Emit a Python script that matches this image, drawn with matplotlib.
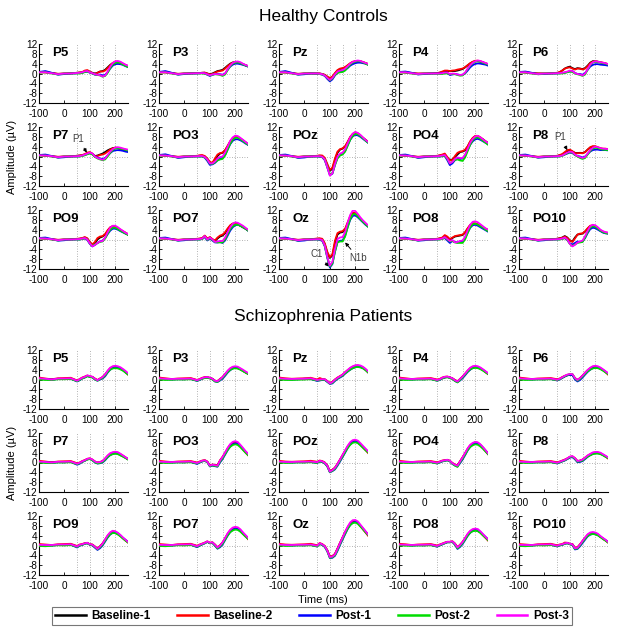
import matplotlib
matplotlib.use("Agg")
import matplotlib.pyplot as plt
from matplotlib.lines import Line2D

plt.rcParams['font.family'] = ['Liberation Sans', 'DejaVu Sans']
plt.rcParams['axes.unicode_minus'] = False

# ---------------- data ----------------
time_ms = [-100, -75, -50, -25, 0, 25, 50, 60, 70, 80, 90, 100, 110, 120, 130,
           140, 150, 160, 170, 180, 190, 200, 210, 220, 230, 240, 250]
conditions = ['Baseline-1', 'Baseline-2', 'Post-1', 'Post-2', 'Post-3']
colors = ['#000000', '#ff0000', '#0000ff', '#00dd00', '#ff00ff']
channels = ['P5', 'P3', 'Pz', 'P4', 'P6',
            'P7', 'PO3', 'POz', 'PO4', 'P8',
            'PO9', 'PO7', 'Oz', 'PO8', 'PO10']
group_titles = ['Healthy Controls', 'Schizophrenia Patients']
yticks = [-12, -8, -4, 0, 4, 8, 12]
xticks = [-100, 0, 100, 200]
grid_x = [50, 100, 150, 200]

# Healthy controls: rows = Baseline-1, Baseline-2, Post-1, Post-2, Post-3
hc_P5 = [
    [0.5, 0.6, 0.2, -0.2, 0, 0, 0.3, 0.4, 0.5, 0.8, 1.0, 0.6, 0.3, 0.0, 0.3, 0.8, 1.0, 1.5, 2.5, 3.5, 4.2, 4.6, 4.5, 4.2, 3.8, 3.4, 3.0],
    [0.5, 0.4, 0.2, -0.1, 0, 0.1, 0.3, 0.4, 0.6, 1.2, 1.4, 0.8, 0.2, -0.2, 0.3, 0.8, 0.8, 1.2, 2.2, 3.3, 4.3, 4.8, 4.8, 4.5, 4.0, 3.5, 3.0],
    [0.6, 1.0, 0.3, -0.5, -0.2, 0, 0.1, 0.2, 0.3, 0.6, 0.8, 0.3, 0.0, -0.5, -0.6, -0.4, -0.8, -0.5, 0.5, 2.0, 3.2, 3.8, 3.9, 3.8, 3.5, 3.0, 2.6],
    [0.4, 0.5, 0, -0.4, 0, 0, 0, 0, 0.2, 0.6, 0.8, 0.5, 0.0, -0.4, -0.6, -0.8, -1.3, -1.0, 0.3, 2.2, 3.6, 4.3, 4.5, 4.2, 3.6, 3.1, 2.6],
    [0.5, 0.5, 0.1, -0.3, 0, 0, 0.2, 0.3, 0.5, 0.9, 1.0, 0.5, 0.1, -0.3, -0.5, -0.7, -1.2, -0.8, 0.8, 2.8, 4.2, 5.0, 5.1, 4.8, 4.2, 3.6, 3.2]]
hc_P3 = [
    [0.5, 0.6, 0.2, -0.2, 0, 0, 0.2, 0.2, 0.3, 0.3, 0.0, -0.3, 0.0, 0.5, 1.0, 1.2, 1.5, 2.3, 3.2, 4.0, 4.5, 4.6, 4.5, 4.2, 3.8, 3.4, 3.0],
    [0.4, 0.4, 0.1, -0.1, 0, 0.1, 0.2, 0.2, 0.3, 0.4, 0.0, -0.4, -0.2, 0.3, 0.8, 1.0, 1.2, 2.0, 3.0, 3.8, 4.4, 4.7, 4.6, 4.3, 3.8, 3.3, 3.0],
    [0.6, 1.0, 0.3, -0.5, -0.2, 0, 0.0, 0.1, 0.2, 0.0, -0.5, -1.0, -0.6, -0.2, -0.2, -0.3, -0.5, 0.0, 1.5, 2.8, 3.6, 4.0, 4.0, 3.8, 3.5, 3.2, 2.8],
    [0.4, 0.5, 0, -0.4, 0, 0, 0, 0, 0, -0.1, -0.4, -0.8, -0.5, -0.3, -0.4, -0.6, -1.0, -0.4, 1.4, 3.0, 4.0, 4.4, 4.5, 4.2, 3.7, 3.3, 2.9],
    [0.5, 0.5, 0.1, -0.3, 0, 0, 0.1, 0.1, 0.2, 0.1, -0.3, -0.7, -0.4, -0.2, -0.3, -0.4, -0.6, 0.0, 1.8, 3.3, 4.3, 4.8, 4.9, 4.6, 4.0, 3.5, 3.1]]
hc_Pz = [
    [0.5, 0.5, 0.2, -0.2, 0, 0, 0, 0, -0.2, -0.6, -1.5, -2.2, -1.5, 0.0, 1.2, 1.8, 2.0, 2.5, 3.2, 4.0, 4.6, 4.9, 5.0, 4.9, 4.6, 4.2, 3.8],
    [0.4, 0.4, 0.1, -0.1, 0, 0.1, 0, 0, -0.2, -0.5, -1.2, -1.8, -1.2, 0.2, 1.4, 2.0, 2.2, 2.6, 3.4, 4.2, 4.8, 5.0, 5.1, 5.0, 4.7, 4.3, 3.9],
    [0.6, 1.0, 0.3, -0.5, -0.3, 0, -0.1, -0.2, -0.5, -1.0, -2.2, -3.2, -2.4, -0.8, 0.3, 0.8, 1.0, 1.4, 2.2, 3.2, 3.8, 4.2, 4.4, 4.4, 4.2, 4.0, 3.6],
    [0.4, 0.5, 0, -0.4, 0, 0, -0.1, -0.2, -0.4, -0.8, -1.8, -2.8, -2.0, -0.6, 0.2, 0.5, 0.6, 1.2, 2.5, 3.6, 4.4, 4.8, 5.0, 4.9, 4.5, 4.0, 3.5],
    [0.5, 0.5, 0.1, -0.3, 0, 0, 0, -0.1, -0.3, -0.8, -1.8, -2.6, -1.8, -0.3, 0.8, 1.2, 1.4, 2.0, 3.0, 4.0, 4.7, 5.1, 5.3, 5.1, 4.7, 4.3, 3.9]]
hc_P4 = [
    [0.6, 0.5, 0.2, -0.1, 0, 0, 0.1, 0.3, 0.6, 0.8, 1.0, 1.0, 1.0, 1.0, 1.2, 1.5, 1.8, 2.5, 3.3, 4.1, 4.7, 5.0, 5.0, 4.8, 4.5, 4.1, 3.7],
    [0.5, 0.4, 0.1, 0.0, 0, 0.1, 0.2, 0.4, 0.8, 1.2, 1.2, 1.0, 1.2, 1.3, 1.6, 1.8, 2.0, 2.6, 3.4, 4.2, 4.8, 5.2, 5.2, 5.0, 4.6, 4.2, 3.8],
    [0.6, 0.8, 0.3, -0.4, -0.2, 0, 0, 0, 0.1, 0.3, 0.2, -0.6, -0.4, -0.2, -0.4, -0.6, -0.5, 0.0, 1.2, 2.5, 3.4, 3.9, 4.1, 4.0, 3.8, 3.6, 3.2],
    [0.4, 0.4, 0, -0.3, 0, 0, -0.1, -0.2, -0.2, 0, 0, -0.3, -0.2, -0.3, -0.6, -0.9, -0.8, 0.2, 1.8, 3.2, 4.2, 4.8, 5.0, 4.8, 4.4, 4.0, 3.6],
    [0.5, 0.5, 0.1, -0.2, 0, 0, 0, 0, 0.1, 0.4, 0.4, -0.2, 0, -0.1, -0.4, -0.6, -0.5, 0.4, 2.0, 3.4, 4.4, 5.0, 5.3, 5.1, 4.7, 4.3, 3.9]]
hc_P6 = [
    [0.6, 0.5, 0.2, 0.0, 0, 0, 0.2, 0.5, 1.2, 2.0, 2.5, 2.8, 2.2, 1.8, 2.2, 2.0, 1.8, 2.2, 3.2, 4.4, 5.0, 5.0, 4.8, 4.5, 4.3, 4.0, 3.6],
    [0.5, 0.4, 0.1, 0.0, 0, 0.1, 0.3, 0.6, 1.2, 2.0, 2.3, 2.5, 2.0, 1.6, 2.0, 2.0, 1.6, 2.0, 3.0, 4.2, 4.8, 5.0, 4.8, 4.6, 4.4, 4.2, 3.8],
    [0.6, 0.8, 0.3, -0.3, -0.2, 0, 0, 0.1, 0.2, 0.4, 0.6, 0.8, 1.0, 0.2, -0.2, -0.2, -0.5, 0.2, 1.5, 2.8, 3.5, 3.8, 3.8, 3.6, 3.5, 3.4, 3.2],
    [0.4, 0.4, 0, -0.3, 0, 0, 0, 0, 0, 0.2, 0.5, 0.8, 0.6, 0.0, -0.3, -0.6, -1.0, -0.4, 1.6, 3.4, 4.4, 4.8, 4.6, 4.4, 4.2, 4.0, 3.6],
    [0.5, 0.5, 0.1, -0.2, 0, 0, 0.1, 0.2, 0.3, 0.5, 0.8, 1.2, 1.0, 0.2, -0.2, -0.4, -0.8, 0.0, 1.8, 3.6, 4.6, 5.0, 4.8, 4.6, 4.4, 4.2, 3.8]]
hc_P7 = [
    [0.6, 0.4, 0.1, -0.2, 0, 0, 0.3, 0.4, 0.5, 0.8, 1.2, 1.5, 1.0, 0.2, 0.4, 0.8, 1.2, 1.8, 2.5, 3.0, 3.4, 3.6, 3.4, 3.0, 2.7, 2.4, 2.2],
    [0.5, 0.3, 0.1, -0.1, 0, 0.1, 0.3, 0.4, 0.6, 1.0, 1.6, 1.8, 1.2, 0.0, 0.2, 0.6, 0.8, 1.2, 2.0, 2.8, 3.3, 3.6, 3.5, 3.2, 3.0, 2.8, 2.6],
    [0.6, 0.8, 0.2, -0.5, -0.3, 0, 0, 0.1, 0.3, 0.6, 1.0, 1.4, 1.0, 0.0, -0.4, -0.8, -1.0, -0.6, 0.4, 1.4, 2.2, 2.5, 2.6, 2.5, 2.3, 2.0, 1.8],
    [0.4, 0.4, 0, -0.4, 0, 0, 0, 0, 0.2, 0.5, 0.9, 1.2, 0.8, -0.2, -0.8, -1.2, -1.5, -1.2, 0.0, 1.5, 2.6, 3.2, 3.4, 3.2, 3.0, 2.7, 2.4],
    [0.5, 0.4, 0.1, -0.3, 0, 0, 0.1, 0.2, 0.4, 0.8, 1.2, 1.6, 1.2, 0.0, -0.6, -1.0, -1.3, -0.8, 0.6, 2.0, 3.0, 3.6, 3.8, 3.6, 3.3, 3.0, 2.8]]
hc_PO3 = [
    [0.6, 0.4, 0.1, -0.2, 0, 0, 0.2, 0.3, 0.3, 0.0, -1.0, -2.5, -2.8, -1.5, 0.2, 1.2, 1.5, 2.5, 4.2, 6.0, 7.4, 8.0, 7.8, 7.2, 6.5, 5.8, 5.0],
    [0.5, 0.3, 0.1, -0.1, 0, 0.1, 0.3, 0.5, 0.6, 0.2, -0.8, -2.2, -2.5, -0.8, 0.8, 1.4, 1.6, 2.6, 4.4, 6.2, 7.5, 8.2, 8.0, 7.3, 6.6, 5.8, 5.0],
    [0.6, 0.9, 0.2, -0.6, -0.3, 0, 0, 0, 0, -0.5, -1.8, -3.4, -3.2, -2.6, -1.6, -0.8, -0.6, 0.6, 2.8, 5.0, 6.4, 7.0, 7.0, 6.6, 6.0, 5.3, 4.7],
    [0.4, 0.4, 0, -0.4, 0, 0, 0, 0, 0, -0.3, -1.4, -2.9, -3.0, -2.4, -1.6, -1.2, -1.0, 0.4, 2.8, 5.2, 6.8, 7.6, 7.6, 7.0, 6.3, 5.5, 4.8],
    [0.5, 0.4, 0.1, -0.3, 0, 0, 0.1, 0.2, 0.2, -0.2, -1.2, -2.8, -2.8, -2.0, -0.8, -0.2, 0.0, 1.6, 4.0, 6.4, 7.8, 8.5, 8.3, 7.6, 6.8, 6.0, 5.2]]
hc_POz = [
    [0.6, 0.4, 0.1, -0.2, 0, 0, 0.2, 0.2, 0.0, -1.0, -3.5, -5.8, -5.0, -1.5, 1.5, 2.8, 3.2, 4.0, 5.8, 7.8, 9.0, 9.5, 9.2, 8.5, 7.6, 6.8, 6.0],
    [0.5, 0.3, 0.1, -0.1, 0, 0.1, 0.3, 0.5, 0.4, -0.5, -3.0, -5.5, -4.5, -0.8, 2.0, 3.0, 3.3, 4.2, 6.0, 8.0, 9.2, 9.8, 9.4, 8.6, 7.6, 6.8, 6.0],
    [0.6, 0.8, 0.2, -0.6, -0.4, 0, 0, -0.1, -0.3, -1.5, -4.5, -7.6, -7.0, -3.5, -0.5, 0.6, 1.0, 2.2, 4.5, 6.8, 8.2, 8.8, 8.6, 8.0, 7.2, 6.4, 5.6],
    [0.4, 0.4, 0, -0.4, 0, 0, 0, 0, -0.2, -1.2, -4.2, -7.2, -6.8, -3.5, -0.8, 0.4, 0.8, 2.0, 4.4, 6.8, 8.4, 9.2, 9.0, 8.3, 7.4, 6.5, 5.6],
    [0.5, 0.4, 0.1, -0.3, 0, 0, 0.1, 0.1, -0.1, -1.2, -4.3, -7.8, -6.8, -3.0, 0.0, 1.2, 1.6, 3.0, 5.4, 7.8, 9.3, 10.0, 9.6, 8.8, 7.8, 6.8, 6.0]]
hc_PO4 = [
    [0.6, 0.4, 0.1, -0.2, 0, 0, 0.2, 0.4, 0.6, 0.8, -0.5, -1.5, -1.2, -0.2, 0.8, 1.8, 2.0, 2.5, 4.0, 6.0, 7.4, 8.2, 8.2, 7.6, 7.0, 6.2, 5.5],
    [0.5, 0.3, 0.1, -0.1, 0, 0.1, 0.3, 0.5, 0.8, 1.2, -0.2, -1.6, -1.4, 0.2, 1.5, 2.0, 2.2, 2.8, 4.2, 6.2, 7.6, 8.4, 8.4, 7.8, 7.0, 6.2, 5.5],
    [0.6, 0.8, 0.2, -0.6, -0.3, 0, 0, 0, 0.1, 0.2, -1.5, -3.5, -2.8, -1.5, -0.8, -1.0, -0.8, 0.4, 2.6, 4.8, 6.2, 7.0, 7.2, 6.8, 6.2, 5.6, 5.0],
    [0.4, 0.4, 0, -0.4, 0, 0, 0, 0, 0.2, 0.3, -1.0, -2.8, -2.2, -1.4, -1.2, -1.6, -1.8, -0.4, 2.2, 4.8, 6.6, 7.6, 7.8, 7.2, 6.4, 5.6, 4.8],
    [0.5, 0.4, 0.1, -0.3, 0, 0, 0.1, 0.2, 0.4, 0.6, -0.8, -2.8, -2.2, -1.0, -0.4, -0.6, -0.6, 0.8, 3.2, 5.6, 7.2, 8.2, 8.4, 7.8, 7.0, 6.2, 5.5]]
hc_P8 = [
    [0.6, 0.4, 0.1, -0.2, 0, 0, 0.2, 0.5, 0.8, 1.5, 2.2, 2.3, 2.0, 1.5, 1.4, 1.5, 1.4, 1.8, 2.8, 3.6, 4.0, 4.0, 3.6, 3.2, 3.0, 2.9, 2.8],
    [0.5, 0.3, 0.1, -0.1, 0, 0.1, 0.3, 0.6, 1.0, 1.8, 2.6, 2.8, 2.2, 1.4, 1.3, 1.4, 1.3, 1.8, 2.8, 3.8, 4.2, 4.2, 3.8, 3.4, 3.2, 3.2, 3.0],
    [0.6, 0.8, 0.2, -0.5, -0.3, 0, 0, 0.1, 0.3, 0.8, 1.2, 1.6, 1.4, 0.6, 0.2, 0.0, -0.4, 0.0, 1.0, 2.0, 2.6, 2.8, 2.8, 2.6, 2.6, 2.6, 2.5],
    [0.4, 0.4, 0, -0.4, 0, 0, 0, 0, 0.3, 0.8, 1.4, 1.8, 1.6, 0.6, 0.0, -0.6, -1.0, -0.6, 0.8, 2.2, 3.2, 3.6, 3.4, 3.0, 2.8, 2.7, 2.6],
    [0.5, 0.4, 0.1, -0.3, 0, 0, 0.1, 0.2, 0.4, 1.0, 1.6, 2.0, 1.8, 0.8, 0.2, -0.2, -0.6, -0.2, 1.2, 2.6, 3.6, 4.0, 3.8, 3.4, 3.2, 3.1, 3.0]]
hc_PO9 = [
    [0.6, 0.4, 0.1, -0.2, 0, 0, 0.2, 0.3, 0.5, 0.8, 0.3, -1.2, -2.2, -1.5, 0.0, 0.8, 1.2, 2.0, 3.5, 4.8, 5.4, 5.2, 4.6, 3.8, 3.2, 2.6, 2.0],
    [0.5, 0.3, 0.1, -0.1, 0, 0.1, 0.3, 0.4, 0.6, 1.0, 0.5, -1.0, -2.0, -1.0, 0.6, 1.2, 1.4, 2.2, 3.8, 5.0, 5.4, 5.2, 4.6, 4.0, 3.4, 2.8, 2.2],
    [0.6, 0.8, 0.2, -0.5, -0.3, 0, 0, 0, 0.2, 0.4, -0.2, -1.8, -2.8, -2.2, -1.4, -0.8, -0.4, 0.6, 2.2, 3.6, 4.4, 4.4, 4.0, 3.4, 2.9, 2.4, 2.0],
    [0.4, 0.4, 0, -0.4, 0, 0, 0, 0, 0.2, 0.5, 0.0, -1.6, -2.6, -2.0, -1.4, -1.0, -0.8, 0.4, 2.4, 4.0, 4.8, 4.8, 4.2, 3.6, 3.0, 2.4, 1.8],
    [0.5, 0.4, 0.1, -0.3, 0, 0, 0.1, 0.2, 0.4, 0.6, 0.0, -1.6, -2.8, -2.2, -1.4, -0.8, -0.6, 0.8, 3.0, 4.8, 5.6, 5.6, 5.0, 4.2, 3.5, 2.8, 2.2]]
hc_PO7 = [
    [0.6, 0.4, 0.1, -0.2, 0, 0, 0.2, 0.3, 0.5, 1.4, 0.2, 0.8, 0.0, -0.6, 0.4, 1.2, 1.6, 2.6, 4.2, 5.6, 6.4, 6.5, 6.2, 5.6, 5.0, 4.4, 3.8],
    [0.5, 0.3, 0.1, -0.1, 0, 0.1, 0.3, 0.4, 0.6, 1.6, 0.4, 1.0, 0.2, -0.4, 0.8, 1.6, 2.0, 3.0, 4.5, 5.8, 6.5, 6.6, 6.2, 5.6, 5.0, 4.4, 3.8],
    [0.6, 0.8, 0.2, -0.5, -0.3, 0, 0, 0, 0.2, 1.0, -0.4, 0.4, -0.4, -1.2, -1.2, -1.0, -1.4, -0.4, 1.6, 3.6, 5.0, 5.8, 6.0, 5.6, 5.0, 4.4, 3.6],
    [0.4, 0.4, 0, -0.4, 0, 0, 0, 0, 0.2, 1.2, -0.2, 0.6, -0.2, -1.0, -1.2, -1.2, -1.2, 0.0, 2.2, 4.2, 5.4, 6.0, 6.0, 5.6, 5.0, 4.4, 3.6],
    [0.5, 0.4, 0.1, -0.3, 0, 0, 0.1, 0.2, 0.4, 1.4, 0.0, 0.8, 0.0, -1.0, -0.8, -0.6, -0.6, 0.8, 3.0, 5.0, 6.4, 7.0, 6.8, 6.2, 5.6, 4.8, 4.0]]
hc_Oz = [
    [0.6, 0.4, 0.1, -0.2, 0, 0, 0.3, 0.3, 0.0, -2.0, -5.5, -7.5, -6.5, -1.5, 2.0, 2.8, 3.0, 4.0, 6.5, 9.0, 10.5, 10.4, 9.4, 8.2, 7.2, 6.3, 5.5],
    [0.5, 0.3, 0.1, -0.1, 0, 0.1, 0.4, 0.5, 0.3, -1.5, -5.0, -7.2, -6.0, -0.5, 2.6, 3.2, 3.4, 4.4, 7.0, 9.5, 11.0, 10.8, 9.6, 8.4, 7.4, 6.4, 5.6],
    [0.6, 0.8, 0.2, -0.6, -0.4, 0, 0, -0.2, -0.5, -2.8, -7.5, -11.4, -10.0, -5.0, -1.0, -0.5, -0.4, 1.5, 5.0, 8.0, 9.6, 9.8, 9.0, 8.0, 7.0, 6.0, 5.2],
    [0.4, 0.4, 0, -0.4, 0, 0, 0, 0, -0.3, -2.6, -7.2, -11.0, -9.8, -5.0, -1.2, -0.8, -0.8, 1.2, 5.0, 8.4, 10.2, 10.4, 9.4, 8.2, 7.2, 6.2, 5.2],
    [0.5, 0.4, 0.1, -0.3, 0, 0, 0.1, 0.1, -0.2, -2.4, -7.0, -10.6, -9.0, -3.8, 0.2, 0.8, 1.0, 3.0, 6.8, 10.0, 11.8, 11.6, 10.4, 9.0, 7.8, 6.8, 5.8]]
hc_PO8 = [
    [0.6, 0.4, 0.1, -0.2, 0, 0, 0.2, 0.4, 0.6, 1.2, 0.6, -0.2, 0.6, 1.2, 1.4, 1.6, 1.8, 2.8, 4.4, 5.8, 6.4, 6.4, 6.0, 5.4, 4.8, 4.2, 3.8],
    [0.5, 0.3, 0.1, -0.1, 0, 0.1, 0.3, 0.5, 0.8, 1.8, 1.2, 0.2, 0.8, 1.4, 1.6, 1.8, 2.0, 3.0, 4.6, 6.0, 6.6, 6.6, 6.2, 5.6, 5.0, 4.4, 4.0],
    [0.6, 0.8, 0.2, -0.5, -0.3, 0, 0, 0.1, 0.3, 0.6, -0.4, -1.4, -0.6, -1.0, -1.2, -0.8, -0.8, 0.6, 2.8, 4.8, 5.8, 6.0, 5.6, 5.0, 4.4, 3.8, 3.2],
    [0.4, 0.4, 0, -0.4, 0, 0, 0, 0, 0.2, 0.8, 0.0, -0.8, -0.6, -1.2, -1.4, -1.4, -1.4, 0.0, 2.6, 5.0, 6.2, 6.4, 6.0, 5.4, 4.8, 4.0, 3.4],
    [0.5, 0.4, 0.1, -0.3, 0, 0, 0.1, 0.2, 0.4, 1.0, 0.2, -0.6, -0.2, -1.2, -1.0, -0.6, -0.4, 1.2, 3.8, 6.0, 7.2, 7.4, 7.0, 6.2, 5.4, 4.6, 4.0]]
hc_PO10 = [
    [0.6, 0.4, 0.1, -0.2, 0, 0, 0.3, 0.5, 0.8, 1.4, 0.8, -0.4, -0.8, 0.8, 2.0, 2.2, 2.4, 3.2, 4.4, 5.4, 5.6, 5.2, 4.4, 3.6, 3.0, 2.7, 2.5],
    [0.5, 0.3, 0.1, -0.1, 0, 0.1, 0.3, 0.5, 0.7, 1.2, 0.6, -0.4, -1.0, 0.4, 2.0, 2.4, 2.5, 3.4, 4.6, 5.6, 5.8, 5.4, 4.6, 3.8, 3.2, 2.9, 2.7],
    [0.6, 0.8, 0.2, -0.5, -0.3, 0, 0, 0.1, 0.3, 0.6, -0.2, -1.6, -2.0, -1.4, -0.8, -1.0, -0.8, 0.6, 2.6, 4.2, 4.8, 4.6, 4.0, 3.4, 2.8, 2.5, 2.4],
    [0.4, 0.4, 0, -0.4, 0, 0, 0, 0, 0.2, 0.6, -0.2, -1.8, -2.6, -2.0, -1.4, -1.2, -1.0, 0.8, 3.0, 4.8, 5.4, 5.2, 4.4, 3.6, 3.0, 2.6, 2.4],
    [0.5, 0.4, 0.1, -0.3, 0, 0, 0.1, 0.2, 0.4, 0.8, 0.0, -1.8, -2.8, -2.2, -1.2, -0.8, -0.4, 1.4, 3.6, 5.4, 6.0, 5.8, 5.0, 4.0, 3.4, 3.0, 2.8]]

# Schizophrenia patients
sz_P5 = [
    [0.4, 0.2, 0.0, 0.3, 0.2, 0.4, -0.5, 0.0, 0.6, 1.0, 1.5, 1.2, 1.0, 0.2, -0.3, 0.3, 0.9, 2.0, 3.3, 4.4, 4.9, 5.0, 4.8, 4.4, 3.8, 3.0, 2.3],
    [0.8, 0.4, 0.1, 0.5, 0.6, 0.7, -0.4, 0.2, 0.8, 1.2, 1.6, 1.3, 1.1, 0.4, -0.2, 0.4, 1.0, 2.0, 3.4, 4.6, 5.2, 5.3, 5.1, 4.6, 4.0, 3.0, 2.0],
    [0.3, 0.2, -0.1, 0.2, 0.2, 0.3, -0.8, -0.3, 0.4, 0.8, 1.4, 1.1, 0.9, 0.0, -0.5, 0.0, 0.4, 1.3, 2.8, 4.0, 4.7, 5.0, 4.8, 4.4, 3.8, 3.0, 2.2],
    [0.0, -0.2, -0.2, 0.1, 0.1, 0.2, -0.7, -0.2, 0.4, 0.8, 1.3, 1.0, 0.8, 0.0, -0.5, 0.1, 0.6, 1.6, 3.0, 4.0, 4.5, 4.6, 4.5, 4.1, 3.6, 2.8, 2.0],
    [0.5, 0.3, 0.0, 0.4, 0.4, 0.5, -0.5, 0.1, 0.7, 1.1, 1.7, 1.4, 1.1, 0.3, -0.3, 0.4, 1.0, 2.1, 3.6, 4.8, 5.4, 5.6, 5.4, 5.0, 4.3, 3.5, 2.6]]
sz_P3 = [
    [0.4, 0.2, 0.1, 0.2, 0.1, 0.3, -0.3, 0.0, 0.5, 0.8, 0.9, 0.6, 0.3, -0.5, -0.7, 0.1, 0.9, 2.1, 3.2, 4.1, 4.6, 4.8, 4.6, 4.1, 3.5, 2.9, 2.4],
    [0.8, 0.5, 0.2, 0.4, 0.5, 0.6, -0.2, 0.2, 0.7, 1.0, 1.0, 0.7, 0.3, -0.5, -0.6, 0.2, 1.0, 2.2, 3.4, 4.4, 5.0, 5.1, 4.9, 4.3, 3.6, 2.9, 2.3],
    [0.3, 0.1, 0.0, 0.1, 0.1, 0.2, -0.6, -0.2, 0.3, 0.7, 0.8, 0.5, 0.1, -0.8, -1.0, -0.4, 0.3, 1.5, 2.8, 3.8, 4.5, 4.8, 4.7, 4.2, 3.6, 3.0, 2.4],
    [0.0, -0.2, -0.1, 0.0, 0.0, 0.1, -0.5, -0.1, 0.3, 0.6, 0.7, 0.4, 0.0, -0.8, -1.0, -0.2, 0.6, 1.8, 3.0, 3.9, 4.4, 4.6, 4.4, 4.0, 3.4, 2.8, 2.2],
    [0.5, 0.3, 0.2, 0.3, 0.3, 0.4, -0.3, 0.1, 0.6, 0.9, 1.0, 0.7, 0.3, -0.5, -0.7, 0.1, 1.0, 2.3, 3.6, 4.6, 5.2, 5.4, 5.2, 4.6, 4.0, 3.3, 2.7]]
sz_Pz = [
    [0.4, 0.2, 0.1, 0.2, 0.1, 0.3, -0.2, -0.2, 0.0, 0.0, -0.7, -1.5, -1.1, -0.1, 0.6, 1.2, 1.8, 2.7, 3.5, 4.2, 4.8, 5.2, 5.3, 5.1, 4.7, 4.0, 3.1],
    [0.8, 0.5, 0.3, 0.4, 0.5, 0.7, 0.0, 0.6, 0.2, 0.1, -0.6, -1.4, -1.0, 0.0, 0.8, 1.4, 2.0, 3.0, 3.8, 4.6, 5.2, 5.6, 5.7, 5.4, 4.9, 4.0, 2.9],
    [0.3, 0.1, 0.0, 0.1, 0.3, 0.2, -0.6, -0.4, -0.2, -0.2, -1.0, -1.8, -1.6, -0.6, 0.2, 0.8, 1.4, 2.4, 3.2, 4.0, 4.6, 5.0, 5.2, 5.1, 4.7, 4.0, 3.0],
    [0.0, -0.2, -0.2, -0.1, 0.0, 0.1, -0.4, -0.3, -0.1, -0.1, -0.9, -1.7, -1.4, -0.4, 0.4, 1.0, 1.6, 2.5, 3.3, 4.0, 4.6, 5.0, 5.1, 4.9, 4.5, 3.8, 2.9],
    [0.5, 0.3, 0.2, 0.3, 0.3, 0.5, -0.2, 0.0, 0.1, 0.1, -0.7, -1.6, -1.1, -0.1, 0.7, 1.3, 2.0, 3.0, 3.9, 4.8, 5.4, 5.8, 5.9, 5.7, 5.2, 4.4, 3.4]]
sz_P4 = [
    [0.4, 0.2, 0.1, 0.2, 0.1, 0.3, -0.2, 0.0, 0.6, 0.9, 1.0, 0.8, 0.4, -0.3, -0.8, 0.1, 1.1, 2.2, 3.3, 4.2, 4.8, 5.0, 4.8, 4.4, 3.8, 3.1, 2.4],
    [0.8, 0.5, 0.2, 0.4, 0.5, 0.6, 0.0, 0.2, 0.8, 1.1, 1.2, 0.9, 0.5, -0.2, -0.7, 0.2, 1.2, 2.4, 3.6, 4.6, 5.2, 5.3, 5.1, 4.6, 3.9, 3.0, 2.2],
    [0.3, 0.1, 0.0, 0.1, 0.1, 0.2, -0.5, -0.2, 0.4, 0.8, 1.0, 0.7, 0.3, -0.6, -1.1, -0.4, 0.5, 1.7, 3.0, 4.0, 4.7, 5.0, 4.9, 4.5, 3.9, 3.2, 2.5],
    [0.0, -0.2, -0.1, 0.0, 0.0, 0.1, -0.5, -0.1, 0.4, 0.8, 0.9, 0.6, 0.2, -0.6, -1.2, -0.2, 0.8, 2.0, 3.2, 4.1, 4.6, 4.8, 4.6, 4.2, 3.6, 2.9, 2.2],
    [0.5, 0.3, 0.2, 0.3, 0.3, 0.4, -0.2, 0.1, 0.7, 1.1, 1.2, 0.9, 0.5, -0.3, -0.8, 0.2, 1.2, 2.4, 3.7, 4.8, 5.4, 5.6, 5.4, 4.9, 4.2, 3.4, 2.6]]
sz_P6 = [
    [0.4, 0.2, 0.1, 0.2, 0.1, 0.3, -0.1, 0.2, 0.8, 1.3, 1.7, 1.9, 1.9, 0.5, -0.2, 0.5, 1.5, 2.6, 3.5, 4.2, 4.8, 5.0, 4.8, 4.4, 3.8, 3.1, 2.4],
    [0.8, 0.5, 0.2, 0.4, 0.5, 0.6, 0.1, 0.4, 1.0, 1.5, 1.9, 2.1, 2.1, 0.6, -0.2, 0.6, 1.6, 2.8, 3.8, 4.6, 5.2, 5.3, 5.1, 4.6, 3.9, 3.0, 2.0],
    [0.3, 0.1, 0.0, 0.1, 0.1, 0.2, -0.4, 0.0, 0.6, 1.2, 1.7, 1.9, 1.8, 0.0, -0.8, -0.2, 0.8, 2.0, 3.1, 4.0, 4.6, 4.9, 4.8, 4.4, 3.9, 3.2, 2.5],
    [0.0, -0.2, -0.1, 0.0, 0.0, 0.1, -0.3, 0.1, 0.7, 1.3, 1.8, 2.2, 2.2, 0.4, -0.5, 0.2, 1.2, 2.3, 3.3, 4.0, 4.5, 4.7, 4.6, 4.2, 3.6, 2.9, 2.2],
    [0.5, 0.3, 0.2, 0.3, 0.3, 0.4, -0.1, 0.3, 0.9, 1.5, 2.0, 2.2, 2.2, 0.6, -0.2, 0.6, 1.6, 2.8, 3.9, 4.8, 5.4, 5.6, 5.4, 4.9, 4.2, 3.4, 2.6]]
sz_P7 = [
    [0.3, 0.1, 0.0, 0.2, 0.1, 0.3, -0.5, -0.2, 0.4, 0.8, 1.3, 1.5, 1.0, 0.3, -0.1, 0.1, 0.5, 1.4, 2.5, 3.2, 3.6, 3.8, 3.6, 3.0, 2.5, 1.9, 1.3],
    [0.7, 0.4, 0.1, 0.4, 0.5, 0.6, -0.3, 0.0, 0.6, 1.0, 1.5, 1.7, 1.2, 0.4, 0.0, 0.2, 0.6, 1.6, 2.7, 3.6, 4.0, 4.2, 4.0, 3.4, 2.8, 2.1, 1.4],
    [0.2, 0.1, -0.1, 0.1, 0.1, 0.2, -0.9, -0.5, 0.2, 0.7, 1.3, 1.5, 0.9, 0.0, -0.4, -0.3, 0.0, 0.9, 2.1, 3.0, 3.5, 3.8, 3.7, 3.2, 2.6, 2.0, 1.4],
    [0.0, -0.2, -0.2, 0.0, 0.0, 0.1, -0.7, -0.3, 0.3, 0.7, 1.2, 1.4, 0.9, 0.1, -0.4, -0.2, 0.2, 1.1, 2.3, 3.0, 3.4, 3.6, 3.4, 2.9, 2.4, 1.8, 1.2],
    [0.4, 0.2, 0.0, 0.3, 0.3, 0.4, -0.5, -0.1, 0.5, 0.9, 1.5, 1.7, 1.2, 0.4, 0.0, 0.2, 0.6, 1.7, 2.9, 3.8, 4.2, 4.4, 4.2, 3.6, 2.9, 2.2, 1.5]]
sz_PO3 = [
    [0.3, 0.1, 0.1, 0.2, 0.1, 0.3, -0.2, 0.2, 0.6, 0.8, 0.3, -1.3, -0.9, -1.0, -1.2, 0.7, 2.1, 3.8, 5.5, 6.8, 7.5, 7.8, 7.4, 6.5, 5.4, 4.3, 3.3],
    [0.7, 0.4, 0.2, 0.4, 0.5, 0.6, 0.0, 0.4, 0.8, 1.0, 0.4, -1.2, -0.8, -1.0, -1.1, 0.9, 2.3, 4.0, 5.8, 7.2, 8.0, 8.3, 7.8, 6.7, 5.4, 4.1, 3.0],
    [0.2, 0.1, 0.0, 0.1, 0.1, 0.2, -0.6, 0.0, 0.4, 0.7, 0.1, -1.6, -1.3, -1.5, -1.7, 0.0, 1.4, 3.2, 5.0, 6.5, 7.4, 7.8, 7.6, 6.7, 5.6, 4.4, 3.4],
    [0.0, -0.2, -0.1, 0.0, 0.0, 0.1, -0.4, 0.1, 0.5, 0.7, 0.1, -1.5, -1.2, -1.4, -1.6, 0.3, 1.7, 3.4, 5.1, 6.4, 7.1, 7.4, 7.1, 6.2, 5.1, 4.0, 3.0],
    [0.4, 0.2, 0.2, 0.3, 0.3, 0.4, -0.2, 0.3, 0.7, 0.9, 0.3, -1.3, -0.9, -1.1, -1.3, 0.8, 2.3, 4.1, 6.0, 7.5, 8.4, 8.7, 8.3, 7.2, 6.0, 4.7, 3.6]]
sz_POz = [
    [0.3, 0.1, 0.1, 0.2, 0.1, 0.3, 0.1, 0.6, 0.4, -0.1, -1.3, -3.6, -3.0, -2.2, -0.6, 1.1, 2.9, 4.6, 6.3, 7.6, 8.3, 8.5, 8.1, 7.2, 6.2, 5.2, 4.3],
    [0.7, 0.4, 0.3, 0.4, 0.5, 0.7, 0.3, 0.8, 0.6, 0.0, -1.2, -3.5, -2.9, -2.1, -0.5, 1.2, 3.0, 4.8, 6.6, 7.9, 8.7, 8.8, 8.3, 7.3, 6.2, 5.1, 3.9],
    [0.2, 0.1, 0.0, 0.1, 0.1, 0.2, -0.2, 0.4, 0.2, -0.4, -1.6, -4.0, -3.5, -2.8, -1.3, 0.4, 2.2, 4.0, 5.9, 7.4, 8.3, 8.6, 8.3, 7.4, 6.4, 5.4, 4.4],
    [0.0, -0.2, -0.1, 0.0, 0.0, 0.1, -0.2, 0.4, 0.3, -0.3, -1.5, -3.9, -3.4, -2.6, -1.0, 0.7, 2.4, 4.2, 5.9, 7.2, 8.0, 8.2, 7.9, 7.0, 6.0, 5.0, 4.1],
    [0.4, 0.2, 0.2, 0.3, 0.3, 0.4, 0.1, 0.7, 0.5, -0.1, -1.3, -3.7, -3.1, -2.2, -0.6, 1.2, 3.1, 5.0, 6.8, 8.3, 9.1, 9.3, 8.9, 7.9, 6.8, 5.7, 4.6]]
sz_PO4 = [
    [0.3, 0.1, 0.1, 0.2, 0.1, 0.3, -0.1, 0.2, 0.6, 0.8, 1.0, 0.6, -0.3, -0.9, -1.2, 0.4, 2.0, 3.7, 5.4, 6.8, 7.7, 8.2, 8.0, 7.2, 6.1, 4.9, 3.7],
    [0.7, 0.4, 0.2, 0.4, 0.5, 0.6, 0.1, 0.4, 0.8, 1.0, 1.1, 0.7, -0.2, -0.8, -1.1, 0.5, 2.1, 3.8, 5.6, 7.0, 7.8, 8.1, 7.8, 6.9, 5.8, 4.6, 3.4],
    [0.2, 0.1, 0.0, 0.1, 0.1, 0.2, -0.4, 0.0, 0.4, 0.7, 0.9, 0.5, -0.6, -1.2, -1.6, -0.3, 1.2, 3.0, 4.9, 6.4, 7.3, 7.8, 7.6, 6.9, 5.9, 4.8, 3.6],
    [0.0, -0.2, -0.1, 0.0, 0.0, 0.1, -0.4, 0.1, 0.5, 0.7, 0.9, 0.5, -0.5, -1.3, -1.8, 0.0, 1.5, 3.2, 5.0, 6.3, 7.0, 7.4, 7.2, 6.5, 5.6, 4.5, 3.4],
    [0.4, 0.2, 0.2, 0.3, 0.3, 0.4, -0.1, 0.3, 0.7, 0.9, 1.1, 0.7, -0.3, -0.9, -1.3, 0.4, 2.1, 3.9, 5.8, 7.2, 8.0, 8.4, 8.2, 7.4, 6.3, 5.1, 3.8]]
sz_P8 = [
    [0.3, 0.1, 0.1, 0.2, 0.1, 0.3, -0.1, 0.2, 0.6, 1.0, 1.5, 2.1, 2.3, 1.6, 0.5, 0.7, 1.1, 1.8, 2.5, 3.1, 3.6, 3.9, 3.9, 3.6, 3.1, 2.5, 1.9],
    [0.7, 0.4, 0.2, 0.4, 0.5, 0.6, 0.1, 0.4, 0.8, 1.2, 1.7, 2.3, 2.5, 1.8, 0.6, 0.8, 1.2, 2.0, 2.8, 3.4, 3.9, 4.1, 4.0, 3.8, 3.2, 2.4, 1.6],
    [0.2, 0.1, 0.0, 0.1, 0.1, 0.2, -0.4, 0.0, 0.4, 0.8, 1.4, 2.0, 2.2, 1.3, 0.1, 0.2, 0.6, 1.4, 2.3, 3.0, 3.5, 3.8, 3.8, 3.6, 3.1, 2.5, 2.0],
    [0.0, -0.2, -0.1, 0.0, 0.0, 0.1, -0.3, 0.1, 0.5, 0.9, 1.5, 2.2, 2.4, 1.5, 0.3, 0.5, 0.8, 1.6, 2.4, 2.9, 3.4, 3.6, 3.6, 3.4, 2.9, 2.3, 1.8],
    [0.4, 0.2, 0.2, 0.3, 0.3, 0.4, -0.1, 0.3, 0.7, 1.1, 1.7, 2.4, 2.6, 1.8, 0.6, 0.8, 1.2, 2.0, 2.9, 3.5, 4.1, 4.3, 4.3, 4.0, 3.4, 2.8, 2.1]]
sz_PO9 = [
    [0.2, 0.1, 0.1, 0.3, 0.2, 0.4, -0.4, 0.2, 0.4, 0.8, 1.0, 0.4, 0.3, -0.5, -1.3, -0.4, 0.7, 2.2, 3.7, 4.8, 5.3, 5.2, 4.6, 3.9, 3.0, 2.1, 1.4],
    [0.6, 0.4, 0.2, 0.5, 0.6, 0.7, -0.2, 0.4, 0.6, 1.0, 1.1, 0.5, 0.4, -0.4, -1.2, -0.3, 0.9, 2.4, 4.0, 5.2, 5.8, 5.6, 5.0, 4.1, 3.0, 2.0, 1.2],
    [0.1, 0.1, 0.0, 0.2, 0.2, 0.3, -0.8, -0.1, 0.2, 0.7, 0.9, 0.3, 0.0, -0.9, -1.8, -1.1, 0.0, 1.6, 3.2, 4.5, 5.2, 5.3, 4.8, 4.1, 3.1, 2.3, 1.5],
    [-0.2, -0.3, -0.1, 0.1, 0.0, 0.2, -0.6, 0.0, 0.3, 0.7, 0.9, 0.3, 0.1, -0.7, -1.6, -0.8, 0.3, 1.9, 3.4, 4.6, 5.1, 5.0, 4.5, 3.7, 2.8, 2.0, 1.2],
    [0.3, 0.2, 0.2, 0.4, 0.4, 0.5, -0.4, 0.3, 0.5, 0.9, 1.1, 0.5, 0.3, -0.5, -1.4, -0.4, 0.8, 2.5, 4.2, 5.4, 6.0, 5.8, 5.2, 4.3, 3.3, 2.4, 1.5]]
sz_PO7 = [
    [0.2, 0.1, 0.1, 0.3, 0.2, 0.4, -0.3, 0.2, 0.6, 1.0, 1.5, 1.0, 1.2, 0.3, -0.8, 0.0, 1.1, 2.8, 4.5, 5.8, 6.5, 6.9, 6.7, 6.0, 4.9, 3.9, 2.9],
    [0.6, 0.4, 0.2, 0.5, 0.6, 0.7, -0.1, 0.4, 0.8, 1.2, 1.7, 1.1, 1.3, 0.4, -0.7, 0.1, 1.3, 3.0, 4.8, 6.2, 7.0, 7.3, 7.0, 6.1, 4.9, 3.8, 2.6],
    [0.1, 0.1, 0.0, 0.2, 0.2, 0.3, -0.7, -0.1, 0.4, 0.9, 1.5, 0.9, 1.0, -0.1, -1.3, -0.7, 0.4, 2.2, 4.0, 5.5, 6.4, 6.9, 6.8, 6.1, 5.0, 4.0, 3.0],
    [-0.2, -0.3, -0.1, 0.1, 0.0, 0.2, -0.5, 0.0, 0.5, 0.9, 1.5, 0.9, 1.1, 0.0, -1.2, -0.4, 0.7, 2.4, 4.1, 5.4, 6.1, 6.5, 6.3, 5.6, 4.6, 3.6, 2.7],
    [0.3, 0.2, 0.2, 0.4, 0.4, 0.5, -0.3, 0.3, 0.7, 1.1, 1.7, 1.1, 1.3, 0.3, -0.8, 0.0, 1.3, 3.1, 5.0, 6.4, 7.3, 7.6, 7.4, 6.6, 5.4, 4.3, 3.2]]
sz_Oz = [
    [0.3, 0.1, 0.1, 0.2, 0.1, 0.3, -0.1, 0.8, 0.4, -0.3, -2.0, -4.6, -4.4, -3.5, -1.3, 1.0, 3.2, 5.3, 7.2, 8.7, 9.5, 9.7, 9.2, 8.0, 6.8, 5.6, 4.4],
    [0.7, 0.4, 0.3, 0.4, 0.5, 0.7, 0.1, 1.0, 0.6, -0.2, -1.9, -4.5, -4.3, -3.4, -1.2, 1.1, 3.3, 5.5, 7.4, 9.0, 9.8, 9.9, 9.2, 7.9, 6.6, 5.3, 4.0],
    [0.2, 0.1, 0.0, 0.1, 0.1, 0.2, -0.4, 0.6, 0.2, -0.6, -2.4, -5.1, -5.0, -4.2, -2.2, 0.2, 2.4, 4.6, 6.7, 8.3, 9.3, 9.6, 9.2, 8.1, 6.9, 5.7, 4.5],
    [0.0, -0.2, -0.1, 0.0, 0.0, 0.1, -0.4, 0.6, 0.3, -0.5, -2.3, -5.0, -4.8, -4.0, -1.9, 0.5, 2.7, 4.8, 6.8, 8.3, 9.1, 9.3, 8.8, 7.7, 6.6, 5.4, 4.3],
    [0.4, 0.2, 0.2, 0.3, 0.3, 0.4, -0.1, 0.9, 0.5, -0.3, -2.1, -4.7, -4.5, -3.6, -1.4, 1.0, 3.3, 5.6, 7.7, 9.4, 10.3, 10.4, 9.8, 8.5, 7.2, 5.9, 4.6]]
sz_PO8 = [
    [0.3, 0.2, 0.1, 0.2, 0.1, 0.3, -0.2, 0.2, 0.6, 1.0, 1.4, 1.4, 1.6, 0.7, -0.8, 0.2, 1.3, 2.8, 4.3, 5.5, 6.0, 6.2, 6.0, 5.3, 4.3, 3.3, 2.4],
    [0.7, 0.5, 0.2, 0.4, 0.5, 0.6, 0.0, 0.4, 0.8, 1.2, 1.5, 1.5, 1.7, 0.8, -0.7, 0.3, 1.5, 3.0, 4.6, 5.8, 6.4, 6.5, 6.2, 5.3, 4.2, 3.1, 2.0],
    [0.2, 0.2, 0.0, 0.1, 0.1, 0.2, -0.5, 0.0, 0.4, 0.9, 1.3, 1.3, 1.4, 0.3, -1.4, -0.6, 0.6, 2.2, 3.9, 5.2, 6.0, 6.3, 6.2, 5.5, 4.5, 3.5, 2.5],
    [0.0, -0.1, -0.1, 0.0, 0.0, 0.1, -0.4, 0.1, 0.5, 0.9, 1.3, 1.3, 1.5, 0.4, -1.2, -0.3, 0.9, 2.4, 4.0, 5.2, 5.8, 6.0, 5.8, 5.1, 4.1, 3.2, 2.2],
    [0.4, 0.3, 0.2, 0.3, 0.3, 0.4, -0.2, 0.3, 0.7, 1.1, 1.5, 1.5, 1.7, 0.7, -0.8, 0.2, 1.4, 3.1, 4.8, 6.0, 6.7, 6.9, 6.7, 5.8, 4.7, 3.6, 2.6]]
sz_PO10 = [
    [0.2, 0.1, 0.1, 0.3, 0.2, 0.4, -0.1, 0.2, 0.4, 0.8, 1.0, 0.6, 0.5, -1.0, -0.8, 0.4, 1.7, 3.0, 4.1, 4.7, 4.9, 4.7, 4.3, 3.5, 2.8, 2.1, 1.4],
    [0.6, 0.4, 0.2, 0.5, 0.6, 0.7, 0.1, 0.4, 0.6, 1.2, 1.1, 0.7, 0.6, -0.9, -0.7, 0.5, 1.9, 3.2, 4.4, 5.0, 5.2, 5.0, 4.5, 3.6, 2.8, 2.0, 1.2],
    [0.1, 0.1, 0.0, 0.2, 0.2, 0.3, -0.4, 0.0, 0.2, 0.7, 0.9, 0.5, 0.2, -1.6, -1.4, -0.3, 1.0, 2.4, 3.7, 4.4, 4.7, 4.6, 4.3, 3.6, 2.9, 2.2, 1.5],
    [-0.2, -0.3, -0.1, 0.1, 0.0, 0.2, -0.3, 0.1, 0.3, 0.7, 0.9, 0.5, 0.3, -1.4, -1.2, 0.0, 1.4, 2.7, 3.9, 4.5, 4.7, 4.5, 4.1, 3.4, 2.6, 2.0, 1.2],
    [0.3, 0.2, 0.2, 0.4, 0.4, 0.5, -0.1, 0.3, 0.5, 0.9, 1.1, 0.7, 0.5, -1.1, -0.9, 0.4, 1.9, 3.3, 4.6, 5.3, 5.5, 5.3, 4.8, 3.9, 3.1, 2.4, 1.5]]

hc_data = [hc_P5, hc_P3, hc_Pz, hc_P4, hc_P6, hc_P7, hc_PO3, hc_POz, hc_PO4, hc_P8,
           hc_PO9, hc_PO7, hc_Oz, hc_PO8, hc_PO10]
sz_data = [sz_P5, sz_P3, sz_Pz, sz_P4, sz_P6, sz_P7, sz_PO3, sz_POz, sz_PO4, sz_P8,
           sz_PO9, sz_PO7, sz_Oz, sz_PO8, sz_PO10]

# ---------------- layout ----------------
W, H = 619, 634
fig = plt.figure(figsize=(W / 100, H / 100), dpi=100)

col_left = [39, 159, 279, 399, 519]
ax_w, ax_h = 89, 59
row_tops = [[44, 127, 210], [350, 433, 516]]
title_y = [17, 316]


def make_ax(left, top):
    return fig.add_axes([left / W, 1 - (top + ax_h) / H, ax_w / W, ax_h / H])


axes_map = {}
for g, data in enumerate([hc_data, sz_data]):
    fig.text(323 / W, 1 - title_y[g] / H, group_titles[g], ha='center', va='center',
             fontsize=12.5)
    for i, ch in enumerate(channels):
        r, c = divmod(i, 5)
        ax = make_ax(col_left[c], row_tops[g][r])
        axes_map[(g, ch)] = ax
        for gx in grid_x:
            ax.axvline(gx, color='#9a9a9a', lw=0.6, ls=(0, (1, 2)), zorder=0)
        ax.axhline(0, color='#9a9a9a', lw=0.6, ls=(0, (1, 2)), zorder=0)
        for k in range(5):
            ax.plot(time_ms, data[i][k], color=colors[k], lw=1.3, zorder=2 + k,
                    solid_joinstyle='round')
        ax.set_xlim(-100, 250)
        ax.set_ylim(-12, 12)
        ax.set_xticks(xticks)
        ax.set_yticks(yticks)
        ax.set_yticklabels([str(v) for v in yticks])
        ax.set_xticklabels([str(v) for v in xticks])
        ax.tick_params(direction='in', length=2, width=0.6, labelsize=7.2)
        ax.tick_params(axis='x', pad=4.4)
        ax.tick_params(axis='y', pad=1)
        for s in ['top', 'right']:
            ax.spines[s].set_visible(False)
        for s in ['left', 'bottom']:
            ax.spines[s].set_linewidth(0.8)
        ax.text(0.15, 0.85, ch, transform=ax.transAxes, fontsize=9.5,
                fontweight='bold', va='center', ha='left')

    # y label
    yc = row_tops[g][1] + ax_h / 2
    fig.text(12 / W, 1 - yc / H, 'Amplitude (\u00b5V)', rotation=90,
             ha='center', va='center', fontsize=8)

# annotations (healthy controls)
arrow_kw = dict(arrowstyle='-|>', color='k', lw=0.7, mutation_scale=5,
                shrinkA=1, shrinkB=0)
axes_map[(0, 'P7')].annotate('P1', xy=(88, 1.6), xytext=(55, 7.0), fontsize=7,
                             color='#404040', ha='center', va='center',
                             arrowprops=arrow_kw)
axes_map[(0, 'P8')].annotate('P1', xy=(90, 2.6), xytext=(62, 7.8), fontsize=7,
                             color='#404040', ha='center', va='center',
                             arrowprops=arrow_kw)
axes_map[(0, 'Oz')].annotate('C1', xy=(96, -11.0), xytext=(50, -6.0), fontsize=7,
                             color='#404040', ha='center', va='center',
                             arrowprops=arrow_kw)
axes_map[(0, 'Oz')].annotate('N1b', xy=(160, -1.2), xytext=(212, -7.6), fontsize=7,
                             color='#404040', ha='center', va='center',
                             arrowprops=arrow_kw)

fig.text(323 / W, 1 - 600 / H, 'Time (ms)', ha='center', va='center', fontsize=8)

handles = [Line2D([0], [0], color=colors[k], lw=1.8) for k in range(5)]
leg = fig.legend(handles, conditions, loc='lower left',
                 bbox_to_anchor=(52 / W, 1 - 625 / H, 520 / W, 16 / H),
                 mode='expand', ncol=5, frameon=True, fancybox=False,
                 edgecolor='#555555', handlelength=2.6, handletextpad=0.5,
                 borderpad=0.25, borderaxespad=0,
                 prop={'weight': 'bold', 'size': 8.5})
leg.get_frame().set_linewidth(0.8)

fig.savefig('out.png', dpi=100)
